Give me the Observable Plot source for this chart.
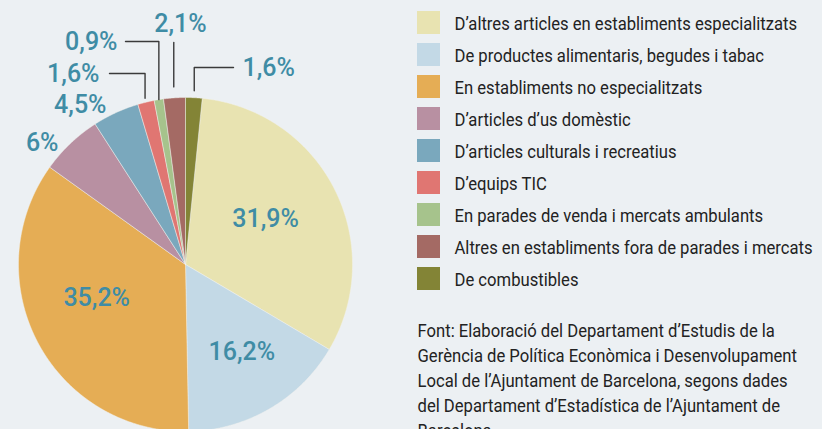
<!DOCTYPE html>
<html>
<head>
<meta charset="utf-8">
<script src="https://cdn.jsdelivr.net/npm/d3@7"></script>
<script src="https://cdn.jsdelivr.net/npm/@observablehq/plot@0.6"></script>
<style>
  html, body { margin: 0; padding: 0; background: #ecf0f3; overflow: hidden; }
  #chart svg { display: block; background: #ecf0f3; }
</style>
</head>
<body>
<div id="chart"></div>
<script>
// ---- data ----
const categories = [
  "D’altres articles en establiments especialitzats",
  "De productes alimentaris, begudes i tabac",
  "En establiments no especialitzats",
  "D’articles d’us domèstic",
  "D’articles culturals i recreatius",
  "D’equips TIC",
  "En parades de venda i mercats ambulants",
  "Altres en establiments fora de parades i mercats",
  "De combustibles"
];
const values = [31.9, 16.2, 35.2, 6, 4.5, 1.6, 0.9, 2.1, 1.6];
const valueLabels = ["31,9%", "16,2%", "35,2%", "6%", "4,5%", "1,6%", "0,9%", "2,1%", "1,6%"];
const colors = ["#e8e3b1", "#c3d9e6", "#e5ad55", "#b890a2", "#7aa8bd", "#e07672", "#a6c38c", "#a46a64", "#838436"];
const captionLines = [
  "Font: Elaboració del Departament d’Estudis de la",
  "Gerència de Política Econòmica i Desenvolupament",
  "Local de l’Ajuntament de Barcelona, segons dades",
  "del Departament d’Estadística de l’Ajuntament de",
  "Barcelona."
];

// ---- layout ----
const W = 822, H = 429;
const cx = 185, cy = 264, R = 167;
const labelColor = "#3f8ca5";
const numFont = "Roboto, sans-serif";
const txtFont = "Roboto, Arial, sans-serif";
const txtSize = 18.5, txtScaleX = 0.9;

// slice angles (clockwise from 12 o'clock; last slice wraps to start at top)
const total = d3.sum(values);
let acc = 2 * Math.PI * values[values.length - 1] / total;
const slices = values.map((v, i) => {
  const a0 = acc, a1 = acc + 2 * Math.PI * v / total;
  acc = a1;
  return {cat: categories[i], value: v, label: valueLabels[i], a0, a1, mid: (a0 + a1) / 2, i};
});
const px = (a, r) => cx + r * Math.sin(a);
const py = (a, r) => cy - r * Math.cos(a);

const piePts = [];
for (const s of slices) {
  piePts.push({cat: s.cat, x: cx, y: cy});
  const n = Math.max(2, Math.ceil((s.a1 - s.a0) / 0.004));
  for (let k = 0; k <= n; k++) {
    const t = s.a0 + (s.a1 - s.a0) * k / n;
    piePts.push({cat: s.cat, x: px(t, R), y: py(t, R)});
  }
  piePts.push({cat: s.cat, x: cx, y: cy});
}

// inner labels: at mid-angle, with small nudges
const inner = {0: {r: 92, da: -0.045}, 1: {r: 104, da: -0.045}, 2: {r: 95, da: 0.12}};
const innerLabels = Object.entries(inner).map(([i, o]) => {
  const s = slices[+i];
  return {label: s.label, x: px(s.mid + o.da, o.r), y: py(s.mid + o.da, o.r)};
});

// outer labels and leaders
const outer = [
  {i: 3, tx: 58, ty: 142, anchor: "end"},
  {i: 4, tx: 106, ty: 104, anchor: "end"},
  {i: 5, tx: 99, ty: 73, anchor: "end", gap: 4, elbowY: 73, endX: 109},
  {i: 6, tx: 117, ty: 41, anchor: "end", gap: 0, elbowY: 41, endX: 125},
  {i: 7, tx: 180, ty: 23.5, anchor: "middle", gap: 11, topY: 42},
  {i: 8, tx: 242, ty: 67, anchor: "start", gap: 7, elbowY: 67, endX: 233}
];
const outerLabels = outer.map(o => ({label: slices[o.i].label, x: o.tx, y: o.ty, anchor: o.anchor}));
const leaderPts = [];
for (const o of outer) {
  if (o.gap === undefined) continue;
  const s = slices[o.i];
  const x0 = px(s.mid, R + o.gap), y0 = py(s.mid, R + o.gap);
  leaderPts.push({z: o.i, x: x0, y: y0});
  if (o.elbowY !== undefined) {
    leaderPts.push({z: o.i, x: x0, y: o.elbowY});
    leaderPts.push({z: o.i, x: o.endX, y: o.elbowY});
  } else {
    leaderPts.push({z: o.i, x: x0, y: o.topY});
  }
}

// legend
const legend = categories.map((c, i) => ({cat: c, i}));
const lgX = 417, lgY = 11, lgStep = 32, sw = 23;

const numText = (data, anchor) => Plot.text(data, {
  x: "x", y: "y", text: "label", textAnchor: anchor, fill: labelColor,
  fontSize: 25, fontFamily: numFont, fontWeight: 500
});

const chart = Plot.plot({
  width: W, height: H,
  marginTop: 0, marginRight: 0, marginBottom: 0, marginLeft: 0,
  style: {background: "#ecf0f3"},
  x: {domain: [0, W], range: [0, W], axis: null},
  y: {domain: [0, H], range: [0, H], axis: null},
  color: {domain: categories, range: colors},
  marks: [
    Plot.line(piePts, {x: "x", y: "y", z: "cat", fill: "cat", stroke: "#f2f2ee", strokeWidth: 0.6, strokeOpacity: 0.8, curve: "linear"}),
    numText(innerLabels, "middle"),
    Plot.line(leaderPts, {x: "x", y: "y", z: "z", stroke: "#3a3a3a", strokeWidth: 1.4}),
    numText(outerLabels.filter(d => d.anchor === "end"), "end"),
    numText(outerLabels.filter(d => d.anchor === "middle"), "middle"),
    numText(outerLabels.filter(d => d.anchor === "start"), "start"),
    Plot.rect(legend, {x1: () => lgX, x2: () => lgX + sw, y1: d => lgY + d.i * lgStep, y2: d => lgY + d.i * lgStep + sw, fill: "cat"}),
    Plot.text(legend, {x: () => lgX + 37, y: d => lgY + sw / 2 + 1 + d.i * lgStep, text: "cat", textAnchor: "start", fill: "#222", fontSize: txtSize, fontFamily: txtFont}),
    Plot.text([captionLines.join("\n")], {x: () => lgX, y: () => 318.5, text: d => d, textAnchor: "start", lineAnchor: "top", lineHeight: 25 / txtSize, fill: "#222", fontSize: txtSize, fontFamily: txtFont})
  ]
});
document.getElementById("chart").appendChild(chart);

// condense legend/caption text horizontally around its anchor
const condensed = new Set(categories);
d3.select(chart).selectAll("text").each(function() {
  const s = this.textContent;
  if (!(condensed.has(s) || s.startsWith("Font:"))) return;
  const t = this.getAttribute("transform");
  if (t) {
    this.setAttribute("transform", t + ` scale(${txtScaleX},1)`);
  } else {
    const x = +this.getAttribute("x") || 0;
    this.setAttribute("transform", `translate(${x},0) scale(${txtScaleX},1) translate(${-x},0)`);
  }
});
</script>
</body>
</html>
